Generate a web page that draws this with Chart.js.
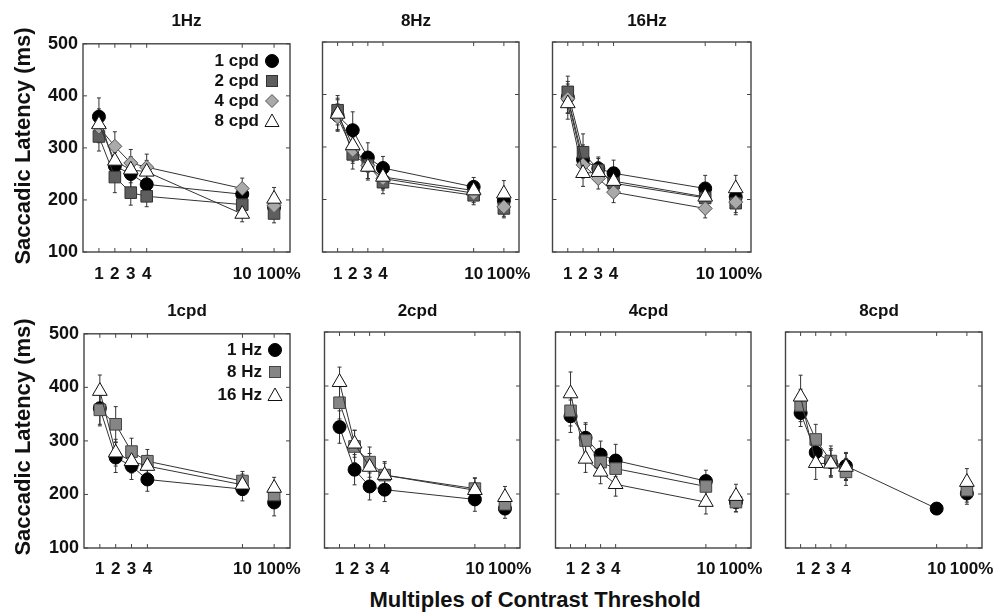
<!DOCTYPE html>
<html>
<head>
<meta charset="utf-8">
<script src="https://cdn.jsdelivr.net/npm/chart.js@4.4.1/dist/chart.umd.min.js"></script>
<style>
  body { margin: 0; background: #fff; width: 996px; height: 614px; position: relative; overflow: hidden;
         font-family: "Liberation Sans", Arial, sans-serif; font-weight: bold; color: #111; }
  canvas { position: absolute; }
  .ptitle { position: absolute; font-size: 17px; transform: translate(-50%, -50%); white-space: nowrap; }
  .ytitle { position: absolute; font-size: 22px; white-space: nowrap; transform: translate(-50%, -50%) rotate(-90deg); }
  .xtitle { position: absolute; font-size: 22px; white-space: nowrap; transform: translate(-50%, -50%); }
  .legend { position: absolute; font-size: 17px; }
  .legend div { position: absolute; right: 0; white-space: nowrap; transform: translateY(-50%); display: flex; align-items: center; }
  .legend svg { margin-left: 5px; }
</style>
</head>
<body>
<script>
// x positions: 1,2,3,4,10 x threshold, and 12 stands for the 100% contrast condition
const xTicks = [1, 2, 3, 4, 10, 12];
// the 100% label sits a little right of its tick in the original
const xTickLabels = ["1", "2", "3", "4", "10", "  100%"];
const yTicks = [100, 200, 300, 400, 500];

// top row: one panel per temporal frequency, series = spatial frequency
const topTitles = ["1Hz", "8Hz", "16Hz"];
const topSeries = ["1 cpd", "2 cpd", "4 cpd", "8 cpd"];

const lat1Hz = [
  [360, 265, 250, 230, 211, 186],
  [322, 244, 214, 207, 191, 174],
  [340, 303, 271, 263, 222, 189],
  [345, 275, 258, 254, 173, 202],
];
const err1Hz = [
  [36, 26, 30, 20, 18, 18],
  [28, 30, 24, 20, 15, 18],
  [30, 28, 26, 25, 20, 18],
  [30, 25, 25, 22, 15, 22],
];
const lat8Hz = [
  [360, 332, 280, 260, 224, 198],
  [370, 286, 265, 233, 208, 183],
  [357, 294, 265, 240, 212, 186],
  [363, 303, 262, 243, 217, 211],
];
const err8Hz = [
  [30, 35, 28, 22, 18, 18],
  [28, 28, 25, 22, 18, 18],
  [25, 25, 25, 22, 18, 18],
  [30, 30, 25, 22, 18, 25],
];
const lat16Hz = [
  [395, 276, 259, 250, 221, 205],
  [405, 290, 256, 231, 203, 193],
  [392, 266, 240, 214, 183, 195],
  [383, 250, 252, 235, 205, 221],
];
const err16Hz = [
  [30, 28, 22, 25, 25, 20],
  [30, 35, 22, 22, 20, 22],
  [28, 25, 20, 20, 18, 20],
  [30, 25, 20, 20, 18, 25],
];

// bottom row: one panel per spatial frequency, series = temporal frequency
const bottomTitles = ["1cpd", "2cpd", "4cpd", "8cpd"];
const bottomSeries = ["1 Hz", "8 Hz", "16 Hz"];

const lat1cpd = [
  [361, 269, 253, 228, 210, 185],
  [358, 331, 280, 262, 225, 199],
  [393, 278, 262, 253, 218, 212],
];
const err1cpd = [
  [30, 28, 25, 22, 22, 25],
  [30, 33, 25, 22, 18, 18],
  [30, 25, 22, 20, 20, 20],
];
const lat2cpd = [
  [324, 245, 214, 208, 190, 173],
  [369, 288, 259, 235, 210, 181],
  [407, 293, 250, 235, 207, 194],
];
const err2cpd = [
  [30, 28, 25, 22, 22, 18],
  [30, 30, 28, 22, 20, 18],
  [28, 25, 25, 25, 22, 20],
];
const lat4cpd = [
  [344, 304, 273, 262, 224, 185],
  [354, 299, 259, 247, 214, 185],
  [386, 265, 241, 218, 185, 196],
];
const err4cpd = [
  [30, 28, 25, 30, 20, 18],
  [28, 30, 25, 25, 20, 18],
  [40, 25, 22, 22, 22, 22],
];
const lat8cpd = [
  [350, 277, 259, 252, 173, 201],
  [364, 301, 261, 241, null, 207],
  [380, 257, 256, 250, null, 222],
];
const err8cpd = [
  [25, 25, 25, 25, 0, 20],
  [30, 28, 28, 25, 0, 22],
  [40, 30, 25, 25, 0, 25],
];

// marker looks per series
const circleStyle = { pointStyle: "circle", radius: 6.5, fill: "#000", stroke: "#000" };
const squareDark = { pointStyle: "rect", radius: 8.2, fill: "#5e5e5e", stroke: "#333" };
const squareMid = { pointStyle: "rect", radius: 8.2, fill: "#858585", stroke: "#444" };
const diamondStyle = { pointStyle: "rectRot", radius: 7, fill: "#aaaaaa", stroke: "#555" };
const triangleStyle = { pointStyle: "triangle", radius: 8.5, fill: "#fff", stroke: "#111" };

const topStyles = [circleStyle, squareDark, diamondStyle, triangleStyle];
const bottomStyles = [circleStyle, squareMid, triangleStyle];

Chart.defaults.font.family = "'Liberation Sans', Arial, sans-serif";
Chart.defaults.font.weight = "bold";
Chart.defaults.color = "#111";

function panelDecor(errs) {
  return {
    id: "panelDecor",
    beforeDatasetsDraw(chart) {
      const { ctx } = chart;
      const ys = chart.scales.y;
      ctx.save();
      ctx.strokeStyle = "#333";
      ctx.lineWidth = 1;
      chart.data.datasets.forEach((ds, di) => {
        chart.getDatasetMeta(di).data.forEach((pt, i) => {
          const v = ds.data[i].y;
          const e = errs[di][i];
          if (v == null || !e) return;
          const x = pt.x;
          const y0 = ys.getPixelForValue(v - e);
          const y1 = ys.getPixelForValue(v + e);
          ctx.beginPath();
          ctx.moveTo(x, y0); ctx.lineTo(x, y1);
          ctx.moveTo(x - 2, y0); ctx.lineTo(x + 2, y0);
          ctx.moveTo(x - 2, y1); ctx.lineTo(x + 2, y1);
          ctx.stroke();
        });
      });
      ctx.restore();
    },
    afterDraw(chart) {
      const { ctx, chartArea: a, scales } = chart;
      ctx.save();
      ctx.strokeStyle = "#444";
      ctx.lineWidth = 1.4;
      ctx.strokeRect(a.left, a.top, a.right - a.left, a.bottom - a.top);
      ctx.lineWidth = 1;
      ctx.beginPath();
      xTicks.forEach((v) => {
        const x = scales.x.getPixelForValue(v);
        ctx.moveTo(x, a.bottom); ctx.lineTo(x, a.bottom - 4);
        ctx.moveTo(x, a.top); ctx.lineTo(x, a.top + 4);
      });
      yTicks.forEach((v) => {
        const y = scales.y.getPixelForValue(v);
        ctx.moveTo(a.left, y); ctx.lineTo(a.left + 4, y);
        ctx.moveTo(a.right, y); ctx.lineTo(a.right - 4, y);
      });
      ctx.stroke();
      ctx.restore();
    },
  };
}

function makePanel(p) {
  const yW = p.showY ? 60 : 0;
  const padTop = 14, xH = 36, padRight = 28;
  const cl = p.left - yW, ct = p.top - padTop;
  const cw = p.right - cl + padRight, ch = p.bottom - ct + xH;

  const canvas = document.createElement("canvas");
  canvas.width = cw;
  canvas.height = ch;
  canvas.style.left = cl + "px";
  canvas.style.top = ct + "px";
  canvas.style.width = cw + "px";
  canvas.style.height = ch + "px";
  document.body.appendChild(canvas);

  const n = p.lat.length;
  const datasets = p.lat.map((vals, si) => {
    const st = p.styles[si];
    return {
      label: p.names[si],
      data: xTicks.map((x, i) => ({ x, y: vals[i] })),
      order: n - 1 - si,
      borderColor: "#333",
      borderWidth: 1,
      pointStyle: st.pointStyle,
      pointRadius: st.radius,
      pointBackgroundColor: st.fill,
      pointBorderColor: st.stroke,
      pointBorderWidth: 1,
      spanGaps: false,
      segment: {
        borderColor: (ctx) => (ctx.p1DataIndex === xTicks.length - 1 ? "rgba(0,0,0,0)" : "#333"),
      },
    };
  });

  new Chart(canvas, {
    type: "line",
    data: { datasets },
    options: {
      responsive: false,
      animation: false,
      layout: { padding: { top: padTop, right: padRight, left: 0, bottom: 0 } },
      plugins: { legend: { display: false }, tooltip: { enabled: false } },
      scales: {
        x: {
          type: "linear",
          min: 0,
          max: 13,
          grid: { display: false, drawTicks: false },
          border: { display: false },
          afterBuildTicks: (s) => { s.ticks = xTicks.map((v) => ({ value: v })); },
          afterFit: (s) => { s.height = xH; },
          ticks: {
            padding: p.xPad,
            maxRotation: 0,
            autoSkip: false,
            font: { size: 17, weight: "bold" },
            color: "#111",
            callback: (v) => xTickLabels[xTicks.indexOf(v)],
          },
        },
        y: {
          min: 100,
          max: 500,
          grid: { display: false, drawTicks: false },
          border: { display: false },
          afterBuildTicks: (s) => { s.ticks = yTicks.map((v) => ({ value: v })); },
          afterFit: (s) => { s.width = yW; },
          ticks: {
            display: p.showY,
            padding: 5,
            font: { size: 18, weight: "bold" },
            color: "#111",
          },
        },
      },
    },
    plugins: [panelDecor(p.err)],
  });

  const t = document.createElement("div");
  t.className = "ptitle";
  t.textContent = p.title;
  t.style.left = (p.left + p.right) / 2 + "px";
  t.style.top = p.titleY + "px";
  document.body.appendChild(t);
}

function markerSvg(st) {
  const s = 16, c = 8;
  let shape;
  if (st.pointStyle === "circle") shape = `<circle cx="${c}" cy="${c}" r="6.5" />`;
  else if (st.pointStyle === "rect") shape = `<rect x="2.5" y="2.5" width="11" height="11" />`;
  else if (st.pointStyle === "rectRot") shape = `<polygon points="8,1.5 14.5,8 8,14.5 1.5,8" />`;
  else shape = `<polygon points="8,1 15,13.5 1,13.5" />`;
  return `<svg width="${s}" height="${s}" viewBox="0 0 ${s} ${s}"><g fill="${st.fill}" stroke="${st.stroke}" stroke-width="1">${shape}</g></svg>`;
}

function makeLegend(names, styles, right, rowsY) {
  const box = document.createElement("div");
  box.className = "legend";
  box.style.left = "0px";
  box.style.top = "0px";
  box.style.width = right + "px";
  names.forEach((name, i) => {
    const row = document.createElement("div");
    row.style.top = rowsY[i] + "px";
    row.innerHTML = `<span>${name}</span>${markerSvg(styles[i])}`;
    box.appendChild(row);
  });
  document.body.appendChild(box);
}

function addText(cls, text, x, y) {
  const d = document.createElement("div");
  d.className = cls;
  d.textContent = text;
  d.style.left = x + "px";
  d.style.top = y + "px";
  document.body.appendChild(d);
}

const topLat = [lat1Hz, lat8Hz, lat16Hz];
const topErr = [err1Hz, err8Hz, err16Hz];
const topLefts = [83, 313, 543];
const topRights = [290, 519, 751];
topTitles.forEach((title, i) => {
  makePanel({
    left: topLefts[i], right: topRights[i], top: 42, bottom: 252, titleY: 21, xPad: 12,
    showY: i === 0, title, lat: topLat[i], err: topErr[i], names: topSeries, styles: topStyles,
  });
});

const bottomLat = [lat1cpd, lat2cpd, lat4cpd, lat8cpd];
const bottomErr = [err1cpd, err2cpd, err4cpd, err8cpd];
const bottomLefts = [84, 315, 546, 776];
const bottomRights = [290, 520, 751, 982];
bottomTitles.forEach((title, i) => {
  makePanel({
    left: bottomLefts[i], right: bottomRights[i], top: 332, bottom: 548, titleY: 311, xPad: 11,
    showY: i === 0, title, lat: bottomLat[i], err: bottomErr[i], names: bottomSeries, styles: bottomStyles,
  });
});

makeLegend(topSeries, topStyles, 280, [61, 81, 101, 121]);
makeLegend(bottomSeries, bottomStyles, 283, [350, 372, 395]);

addText("ytitle", "Saccadic Latency (ms)", 23, 146);
addText("ytitle", "Saccadic Latency (ms)", 23, 437);
addText("xtitle", "Multiples of Contrast Threshold", 535, 600);
</script>
</body>
</html>
